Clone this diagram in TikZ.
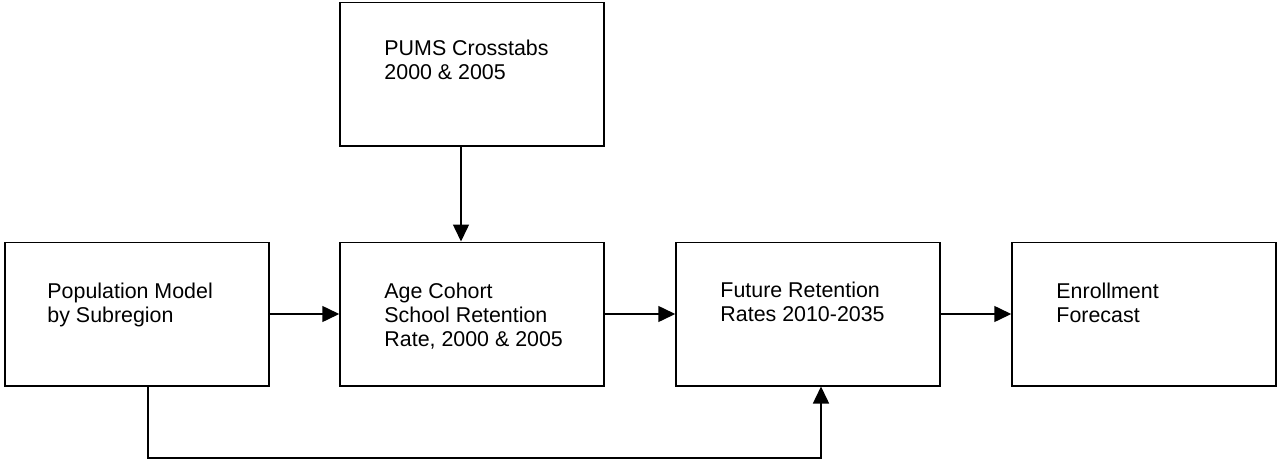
\documentclass[tikz,border=0pt]{standalone}
\usepackage{fontspec}
\setmainfont{Liberation Sans}
\usetikzlibrary{arrows.meta}
\begin{document}
\begin{tikzpicture}[x=1pt,y=-1pt,
  box/.style={draw=black,line width=1.5pt,rectangle,minimum width=264pt,minimum height=143.5pt,inner sep=0pt},
  label/.style={anchor=north west,inner sep=0pt,align=left,font=\fontsize{21.4}{24}\selectfont},
  arr/.style={line width=1.5pt,-{Triangle[length=17pt,width=16pt]}}]
\useasboundingbox (0,0) rectangle (1277,460);
\node[box] (pums) at (472,74.2) {};
\node[box] (pop) at (137,314) {};
\node[box] (age) at (472,314) {};
\node[box] (fut) at (808,314) {};
\node[box] (enr) at (1144,314) {};
\node[label] (tpums) at ([xshift=45pt,yshift=-38pt]pums.north west) {PUMS Crosstabs\\2000 \& 2005};
\node[label] (tpop) at ([xshift=43pt,yshift=-41pt]pop.north west) {Population Model\\by Subregion};
\node[label] (tage) at ([xshift=45pt,yshift=-41pt]age.north west) {Age Cohort\\School Retention\\Rate, 2000 \& 2005};
\node[label] (tfut) at ([xshift=45pt,yshift=-40pt]fut.north west) {Future Retention\\Rates 2010-2035};
\node[label] (tenr) at ([xshift=45pt,yshift=-41pt]enr.north west) {Enrollment\\Forecast};
\coordinate (a1) at (461,0);
\coordinate (lowL) at (148,458);
\coordinate (lowR) at (821,458);
\draw[arr] (pums.south -| a1) -- (age.north -| a1);
\draw[arr] (pop.east) -- (age.west);
\draw[arr] (age.east) -- (fut.west);
\draw[arr] (fut.east) -- (enr.west);
\draw[arr] (pop.south -| lowL) -- (lowL) -- (lowR) -- (fut.south -| lowR);
\end{tikzpicture}
\end{document}
